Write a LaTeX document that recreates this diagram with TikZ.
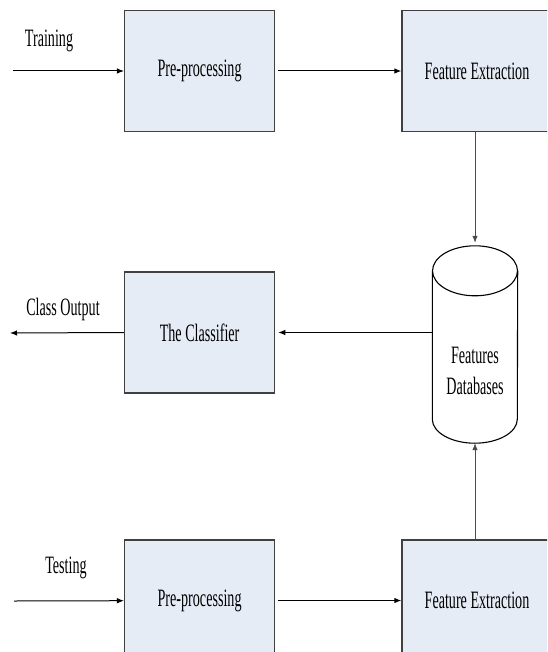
\documentclass[tikz,border=0pt]{standalone}
\usepackage{fontspec}
\setmainfont{Liberation Serif}[FakeStretch=0.565]
\usetikzlibrary{arrows.meta,positioning,calc}
\definecolor{boxfill}{RGB}{230,236,246}
\definecolor{boxline}{RGB}{64,64,64}

\begin{document}
\begin{tikzpicture}[x=1pt,y=-1pt,
  stage/.style={draw=boxline,fill=boxfill,line width=1.3pt,
    minimum width=150pt,minimum height=121pt,inner sep=0pt,
    font=\fontsize{25}{30}\selectfont},
  lbl/.style={font=\fontsize{25}{31}\selectfont},
  store/.style={minimum width=85pt,minimum height=197pt,inner sep=0pt},
  dbline/.style={line width=1.1pt},
  flow/.style={-{Latex[length=7pt,width=5.5pt]},line width=1pt},
  link/.style={-{Latex[length=7pt,width=5.5pt]},line width=0.8pt,black!70}]
\useasboundingbox (0,0) rectangle (547,652);
\clip (0,0) rectangle (547,652);
% Training branch
\node[stage] (pre1) at (199.6,71) {Pre-processing};
\node[stage] (fe1) at (477,71) {Feature Extraction};
% Classifier and database
\node[stage] (cls) at (199.6,332.5) {The Classifier};
\node[store] (db) at (475,344.5) {};
\draw[dbline] ([yshift=-25pt]db.north west) -- ([yshift=24pt]db.south west)
  arc[start angle=180,end angle=360,x radius=42.5pt,y radius=24pt]
  -- ([yshift=-25pt]db.north east);
\draw[dbline] ([yshift=-25pt]db.north) ellipse[x radius=42.5pt,y radius=25pt];
\node[lbl,align=center] (dbtxt) at (475,371) {Features\\Databases};
% Testing branch
\node[stage] (pre2) at (199.6,600.5) {Pre-processing};
\node[stage] (fe2) at (477,600.5) {Feature Extraction};
% Labels
\node[lbl] (train) at (49,41) {Training};
\node[lbl] (clsout) at (63,309.5) {Class Output};
\node[lbl] (test) at (66,568) {Testing};
\coordinate (trainin) at (13,71);
\coordinate (testin) at (14,601);
\coordinate (out) at (10,333);
% Arrows
\draw[flow] (trainin) -- (pre1);
\draw[flow,shorten <=3pt] (pre1) -- (fe1);
\draw[link,shorten >=3pt] (fe1.south -| db.north) -- (db.north);
\draw[flow,shorten >=3pt] (cls.east -| db.west) -- (cls.east);
\draw[flow] (cls.west) -- (out);
\draw[flow] (testin) -- (pre2);
\draw[flow,shorten <=3pt] (pre2) -- (fe2);
\draw[link] (fe2.north -| db.south) -- (db.south);
\end{tikzpicture}
\end{document}
